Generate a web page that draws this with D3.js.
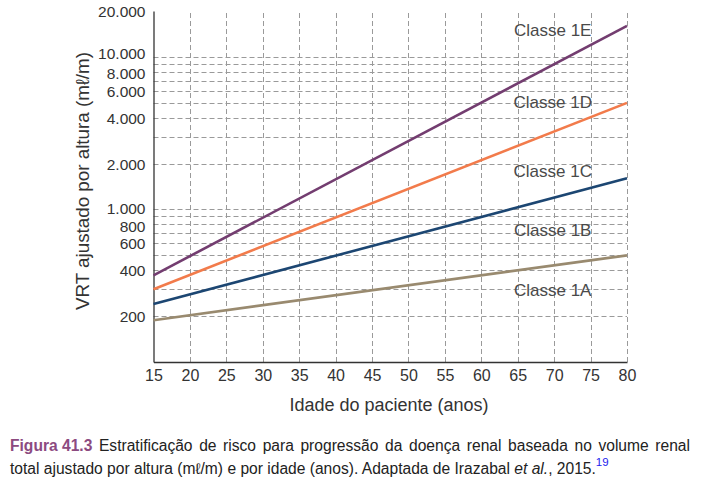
<!DOCTYPE html>
<html><head><meta charset="utf-8">
<script src="https://cdn.jsdelivr.net/npm/d3@7"></script>
<style>
html,body{margin:0;padding:0;background:#fff;}
svg text{font-family:"Liberation Sans",Arial,sans-serif;}
</style></head>
<body><svg id="c" width="703" height="495"></svg>
<script>
// ---- data ----
const ages = [15, 80];
const xTicks = [15,20,25,30,35,40,45,50,55,60,65,70,75,80];
const yTicks = [200,400,600,800,1000,2000,4000,6000,8000,10000,20000];
const yTickLabels = ["200","400","600","800","1.000","2.000","4.000","6.000","8.000","10.000","20.000"];
const yGrid = [200,300,400,500,600,700,800,900,1000,2000,3000,4000,5000,6000,7000,8000,9000,10000];
const lineNames = ["1A/1B","1B/1C","1C/1D","1D/1E"];
const lineTan = [188, 500];
const lineBlue = [240, 1600];
const lineOrange = [300, 5000];
const linePurple = [370, 16000];
const classNames = ["Classe 1A","Classe 1B","Classe 1C","Classe 1D","Classe 1E"];
const classLabelAge = [69.8, 69.8, 69.8, 69.8, 69.8];
const classLabelValue = [296, 730, 1800, 5080, 15000];
const xTitle = "Idade do paciente (anos)";
const yTitle = "VRT ajustado por altura (m\u2113/m)";

const series = [
  {values: lineTan, color: "#998a6f"},
  {values: lineBlue, color: "#1c4672"},
  {values: lineOrange, color: "#f27b4b"},
  {values: linePurple, color: "#733d70"}
];

const svg = d3.select("#c");
const x = d3.scaleLinear().domain([15, 80]).range([153.5, 627]);
const y = d3.scaleLog().domain([100, 20000]).range([362, 11]);

// grid
const grid = svg.append("g").attr("stroke", "#9a9a9a").attr("stroke-width", 1).attr("stroke-dasharray", "5,3");
grid.selectAll("line.h").data(yGrid).join("line")
  .attr("x1", x(15)).attr("x2", x(80))
  .attr("y1", d => Math.round(y(d)) + 0.5).attr("y2", d => Math.round(y(d)) + 0.5);
grid.selectAll("line.v").data(xTicks.slice(1)).join("line")
  .attr("y1", y(100)).attr("y2", y(20000))
  .attr("x1", d => Math.round(x(d)) + 0.5).attr("x2", d => Math.round(x(d)) + 0.5);

// axes
const xAxis = d3.axisBottom(x).tickValues(xTicks).tickSize(0).tickPadding(8).tickFormat(d3.format("d"));
const gx = svg.append("g").attr("transform", `translate(0,${y(100)})`).call(xAxis);
gx.select(".domain").attr("stroke", "#333").attr("stroke-width", 1.3);
gx.selectAll("text").attr("font-size", 16).attr("fill", "#333");

const yAxis = d3.axisLeft(y).tickValues(yTicks).tickSize(0).tickPadding(8)
  .tickFormat((d, i) => yTickLabels[i]);
const gy = svg.append("g").attr("transform", `translate(${x(15)},0)`).call(yAxis);
gy.select(".domain").attr("stroke", "#333").attr("stroke-width", 1.3);
// nudge crowded labels apart (as in the reference)
const nudge = v => v === 10000 ? -3.5 : v === 8000 ? 1 : v === 1000 ? -1.5 : v === 800 ? 2 : 0;
gy.selectAll(".tick text").attr("font-size", 15.5).attr("fill", "#333")
  .attr("dy", null).attr("y", d => 5.5 + nudge(d));

// lines
const line = d3.line().x((d, i) => x(ages[i])).y(d => y(d));
svg.append("g").selectAll("path").data(series).join("path")
  .attr("d", d => line(d.values))
  .attr("fill", "none").attr("stroke", d => d.color).attr("stroke-width", 2.6);

// class labels
svg.append("g").selectAll("text").data(classNames).join("text")
  .attr("x", (d, i) => x(classLabelAge[i]))
  .attr("y", (d, i) => y(classLabelValue[i]))
  .attr("dy", "0.36em").attr("text-anchor", "middle")
  .attr("font-size", 17).attr("fill", "#4a4a4a").text(d => d);

// titles
svg.append("text").attr("x", 389).attr("y", 411).attr("text-anchor", "middle")
  .attr("font-size", 18).attr("fill", "#333").text(xTitle);
svg.append("text").attr("transform", "translate(89,181) rotate(-90)").attr("text-anchor", "middle")
  .attr("font-size", 18.8).attr("fill", "#333").text(yTitle);

// caption
const cap = svg.append("g").attr("font-size", 15.6).attr("fill", "#222");
const line1 = [["Figura 41.3", true], ["Estratificação",false],["de",false],["risco",false],["para",false],["progressão",false],["da",false],["doença",false],["renal",false],["baseada",false],["no",false],["volume",false],["renal",false]];
const l1 = cap.append("g");
const ws = line1.map(([w, b]) => {
  const t = l1.append("text").attr("y", 451).text(w)
    .attr("font-weight", b ? "bold" : null).attr("fill", b ? "#8c4a80" : "#222");
  return t;
});
const widths = ws.map(t => t.node().getComputedTextLength());
const total = widths.reduce((a, b) => a + b, 0);
const gap = (690 - 10 - total) / (ws.length - 1);
let cx = 10;
ws.forEach((t, i) => { t.attr("x", cx); cx += widths[i] + gap; });

const t2 = cap.append("text").attr("x", 10).attr("y", 474);
t2.append("tspan").text("total ajustado por altura (m\u2113/m) e por idade (anos). Adaptada de Irazabal ");
t2.append("tspan").attr("font-style", "italic").text("et al.");
t2.append("tspan").text(", 2015.");
t2.append("tspan").attr("font-size", 11.5).attr("fill", "#2222ee").attr("dy", -8).text("19");
</script></body></html>
